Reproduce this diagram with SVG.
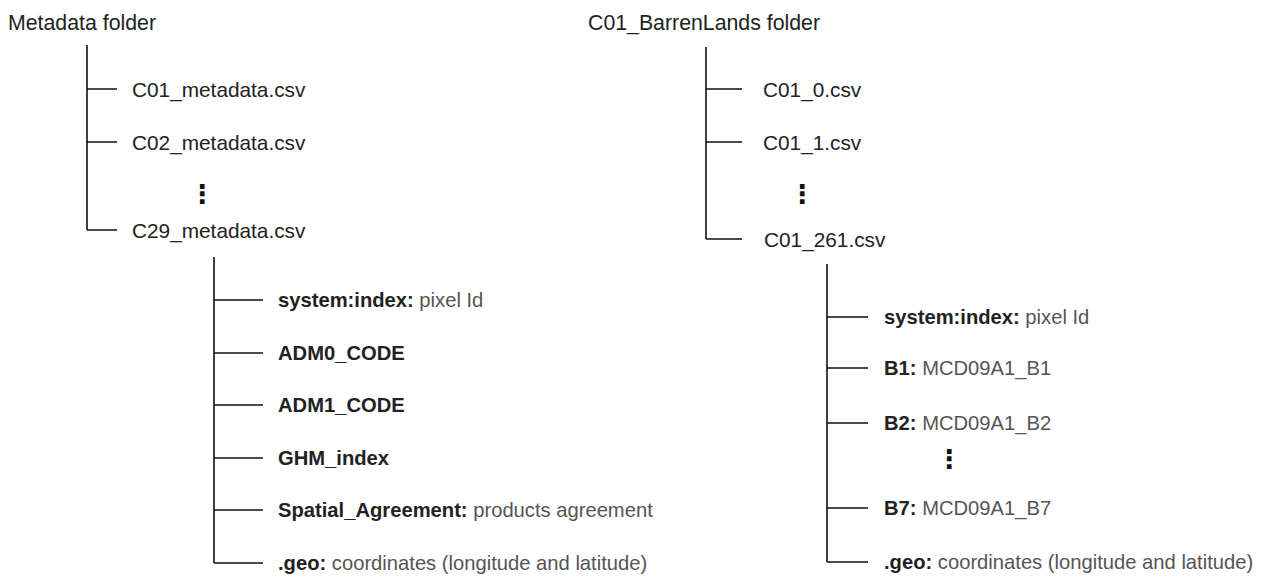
<svg xmlns="http://www.w3.org/2000/svg" width="1266" height="577" viewBox="0 0 1266 577">
<style>
text{font-family:"Liberation Sans",Arial,sans-serif;fill:#222}
.title{font-size:21.3px}
.file{font-size:20.8px}
.field{font-size:20.2px}
.b{font-weight:bold}
.d{fill:#555;font-weight:normal}
.dots{font-family:"DejaVu Sans",sans-serif;font-weight:bold;font-size:26px;text-anchor:middle;fill:#111}
.ln{stroke:#111;stroke-width:1.6;fill:none}
</style>
<rect width="1266" height="577" fill="#fff"/>
<g id="connectors">
<path class="ln" d="M87 45V230M87 89H117M87 142H117M87 230H117"/>
<path class="ln" d="M214 257V563M214 300H263M214 353H263M214 405H263M214 458H263M214 510H263M214 563H263"/>
<path class="ln" d="M706 47V239M706 89H742M706 142H742M706 239H742"/>
<path class="ln" d="M827 264V562M827 317H868M827 368H868M827 423H868M827 508H868M827 562H868"/>
</g>
<g id="metadata-folder"><text class="title" x="8" y="30">Metadata folder</text></g>
<g id="c01-metadata"><text class="file" x="132" y="97">C01_metadata.csv</text></g>
<g id="c02-metadata"><text class="file" x="132" y="150">C02_metadata.csv</text></g>
<g id="dots-left"><text class="dots" x="202" y="203">⋮</text></g>
<g id="c29-metadata"><text class="file" x="132" y="238">C29_metadata.csv</text></g>
<g id="m-system-index"><text class="field" x="278" y="307"><tspan class="b">system:index:</tspan><tspan class="d"> pixel Id</tspan></text></g>
<g id="m-adm0"><text class="field b" x="278" y="360">ADM0_CODE</text></g>
<g id="m-adm1"><text class="field b" x="278" y="412">ADM1_CODE</text></g>
<g id="m-ghm"><text class="field b" x="278" y="465">GHM_index</text></g>
<g id="m-spatial"><text class="field" x="278" y="517"><tspan class="b">Spatial_Agreement:</tspan><tspan class="d"> products agreement</tspan></text></g>
<g id="m-geo"><text class="field" x="278" y="570"><tspan class="b">.geo:</tspan><tspan class="d"> coordinates (longitude and latitude)</tspan></text></g>
<g id="barren-folder"><text class="title" x="588" y="30">C01_BarrenLands folder</text></g>
<g id="c01-0"><text class="file" x="763" y="97">C01_0.csv</text></g>
<g id="c01-1"><text class="file" x="763" y="150">C01_1.csv</text></g>
<g id="dots-right"><text class="dots" x="802" y="203">⋮</text></g>
<g id="c01-261"><text class="file" x="764" y="247">C01_261.csv</text></g>
<g id="b-system-index"><text class="field" x="884" y="324"><tspan class="b">system:index:</tspan><tspan class="d"> pixel Id</tspan></text></g>
<g id="b-b1"><text class="field" x="884" y="375"><tspan class="b">B1:</tspan><tspan class="d"> MCD09A1_B1</tspan></text></g>
<g id="b-b2"><text class="field" x="884" y="430"><tspan class="b">B2:</tspan><tspan class="d"> MCD09A1_B2</tspan></text></g>
<g id="dots-fields"><text class="dots" x="949" y="468">⋮</text></g>
<g id="b-b7"><text class="field" x="884" y="515"><tspan class="b">B7:</tspan><tspan class="d"> MCD09A1_B7</tspan></text></g>
<g id="b-geo"><text class="field" x="884" y="569"><tspan class="b">.geo:</tspan><tspan class="d"> coordinates (longitude and latitude)</tspan></text></g>
</svg>
